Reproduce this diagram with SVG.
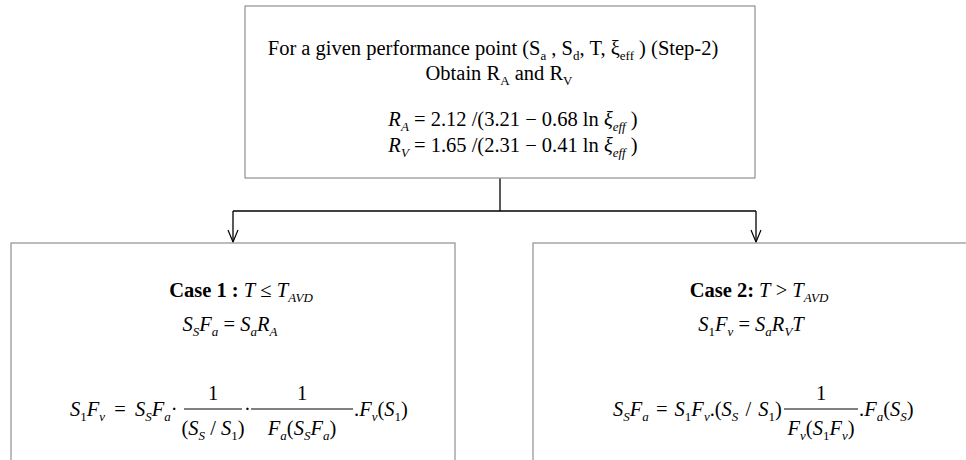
<svg xmlns="http://www.w3.org/2000/svg" width="966" height="460" viewBox="0 0 966 460">
<style>
.t{font-family:"Liberation Serif","Times New Roman",serif;font-size:20.5px;fill:#000}
.i{font-style:italic}
.b{font-weight:bold}
.sb{font-size:13px;baseline-shift:-5px}
.box{fill:#fff;stroke:#999;stroke-width:1.3}
.con{fill:none;stroke:#000;stroke-width:1.3}
.bar{stroke:#000;stroke-width:1}
</style>
<defs>
<marker id="arr" markerWidth="14" markerHeight="12" refX="13" refY="6" orient="auto" markerUnits="userSpaceOnUse" viewBox="0 0 14 12">
<path d="M1,1 L13,6 L1,11" fill="none" stroke="#000" stroke-width="1.2"/>
</marker>
</defs>
<rect width="966" height="460" fill="#fff"/>

<g id="connectors">
<path class="con" d="M500,178 V211"/>
<path class="con" d="M233,211 H756"/>
<path class="con" d="M233,211 V242" marker-end="url(#arr)"/>
<path class="con" d="M756,211 V242" marker-end="url(#arr)"/>
</g>

<g id="step2">
<rect class="box" x="245" y="6" width="510" height="172"/>
<text class="t" x="493" y="55" text-anchor="middle">For a given performance point (S<tspan class="sb">a</tspan> , S<tspan class="sb">d</tspan>, T, ξ<tspan class="sb">eff</tspan> ) (Step-2)</text>
<text class="t" x="499" y="80" text-anchor="middle">Obtain R<tspan class="sb">A</tspan> and R<tspan class="sb">V</tspan></text>
<text class="t" x="513" y="126" text-anchor="middle"><tspan class="i">R</tspan><tspan class="sb i">A</tspan> = 2.12 /(3.21 − 0.68 ln <tspan class="i">ξ</tspan><tspan class="sb i">eff</tspan> )</text>
<text class="t" x="513" y="152" text-anchor="middle"><tspan class="i">R</tspan><tspan class="sb i">V</tspan> = 1.65 /(2.31 − 0.41 ln <tspan class="i">ξ</tspan><tspan class="sb i">eff</tspan> )</text>
</g>

<g id="case1">
<rect class="box" x="11" y="243" width="444" height="240"/>
<text class="t" x="241" y="297" text-anchor="middle"><tspan class="b">Case 1 :</tspan> <tspan class="i">T</tspan> ≤ <tspan class="i">T</tspan><tspan class="sb i">AVD</tspan></text>
<text class="t" x="230" y="331" text-anchor="middle"><tspan class="i">S</tspan><tspan class="sb i">S</tspan><tspan class="i">F</tspan><tspan class="sb i">a</tspan> = <tspan class="i">S</tspan><tspan class="sb i">a</tspan><tspan class="i">R</tspan><tspan class="sb i">A</tspan></text>
<text class="t" x="70" y="416" word-spacing="4"><tspan class="i">S</tspan><tspan class="sb">1</tspan><tspan class="i">F</tspan><tspan class="sb i">v</tspan> = <tspan class="i">S</tspan><tspan class="sb i">S</tspan><tspan class="i">F</tspan><tspan class="sb i">a</tspan>·</text>
<text class="t" x="213" y="400" text-anchor="middle">1</text>
<line class="bar" x1="184" y1="409" x2="242" y2="409"/>
<text class="t" x="213" y="435" text-anchor="middle">(<tspan class="i">S</tspan><tspan class="sb i">S</tspan> / <tspan class="i">S</tspan><tspan class="sb">1</tspan>)</text>
<text class="t" x="244" y="416">·</text>
<text class="t" x="302" y="400" text-anchor="middle">1</text>
<line class="bar" x1="251" y1="409" x2="353" y2="409"/>
<text class="t" x="302" y="435" text-anchor="middle"><tspan class="i">F</tspan><tspan class="sb i">a</tspan>(<tspan class="i">S</tspan><tspan class="sb i">S</tspan><tspan class="i">F</tspan><tspan class="sb i">a</tspan>)</text>
<text class="t" x="354" y="416">.<tspan class="i">F</tspan><tspan class="sb i">v</tspan>(<tspan class="i">S</tspan><tspan class="sb">1</tspan>)</text>
</g>

<g id="case2">
<rect class="box" x="533" y="243" width="440" height="240"/>
<text class="t" x="759" y="297" text-anchor="middle"><tspan class="b">Case 2:</tspan> <tspan class="i">T</tspan> &gt; <tspan class="i">T</tspan><tspan class="sb i">AVD</tspan></text>
<text class="t" x="751" y="331" text-anchor="middle"><tspan class="i">S</tspan><tspan class="sb">1</tspan><tspan class="i">F</tspan><tspan class="sb i">v</tspan> = <tspan class="i">S</tspan><tspan class="sb i">a</tspan><tspan class="i">R</tspan><tspan class="sb i">V</tspan><tspan class="i">T</tspan></text>
<text class="t" x="613" y="416" word-spacing="2"><tspan class="i">S</tspan><tspan class="sb i">S</tspan><tspan class="i">F</tspan><tspan class="sb i">a</tspan> = <tspan class="i">S</tspan><tspan class="sb">1</tspan><tspan class="i">F</tspan><tspan class="sb i">v</tspan>.(<tspan class="i">S</tspan><tspan class="sb i">S</tspan> / <tspan class="i">S</tspan><tspan class="sb">1</tspan>)</text>
<text class="t" x="821" y="400" text-anchor="middle">1</text>
<line class="bar" x1="784" y1="409" x2="858" y2="409"/>
<text class="t" x="821" y="435" text-anchor="middle"><tspan class="i">F</tspan><tspan class="sb i">v</tspan>(<tspan class="i">S</tspan><tspan class="sb">1</tspan><tspan class="i">F</tspan><tspan class="sb i">v</tspan>)</text>
<text class="t" x="859" y="416">.<tspan class="i">F</tspan><tspan class="sb i">a</tspan>(<tspan class="i">S</tspan><tspan class="sb i">S</tspan>)</text>
</g>
</svg>
